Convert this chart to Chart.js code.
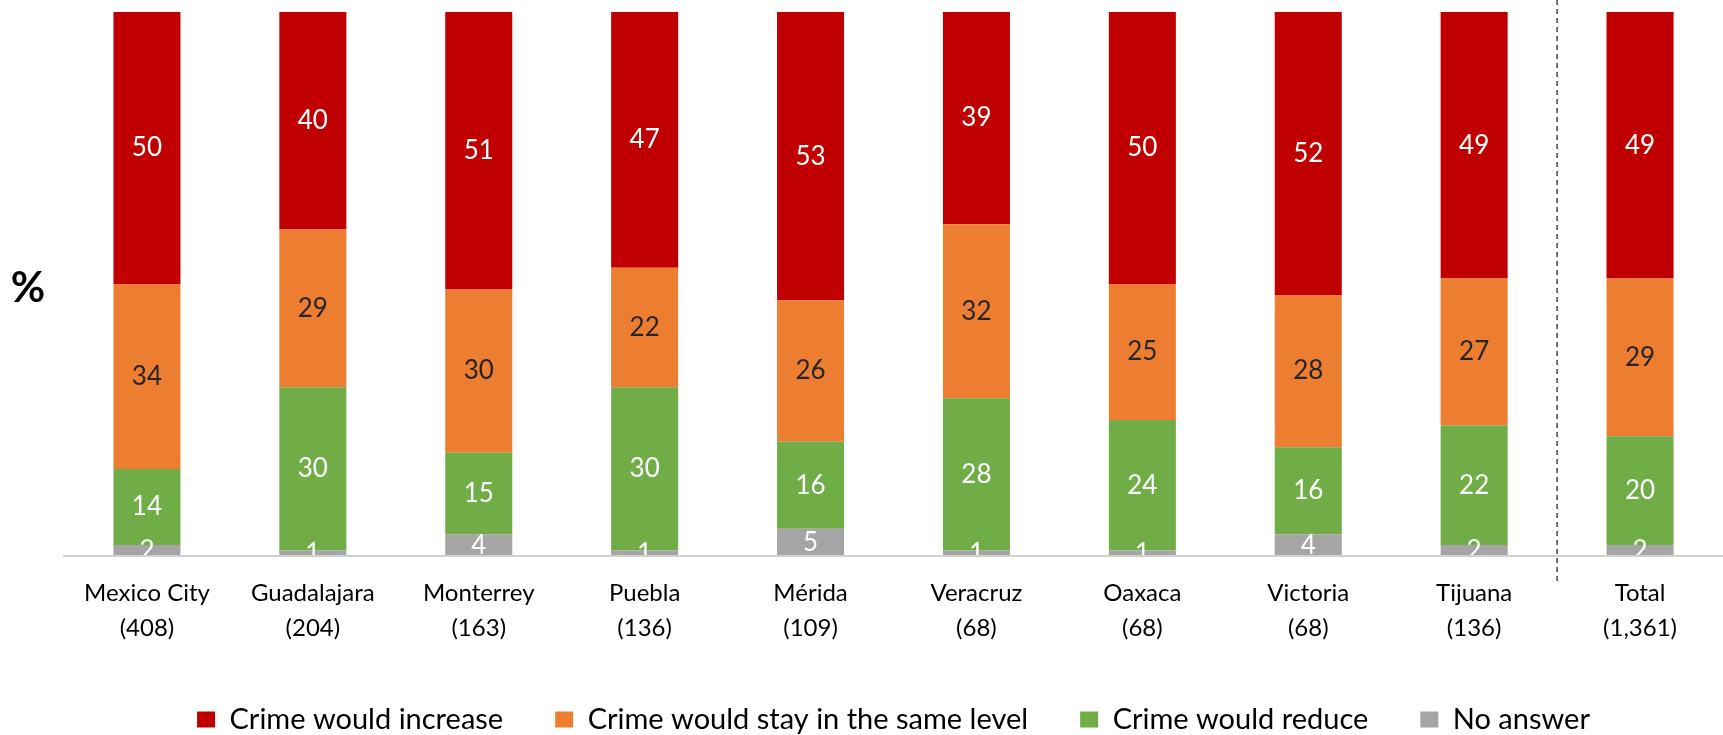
<!DOCTYPE html>
<html>
<head>
<meta charset="utf-8">
<script src="https://cdn.jsdelivr.net/npm/chart.js@4/dist/chart.umd.min.js"></script>
<style>
  html, body { margin: 0; padding: 0; background: #fff; }
  #wrap { width: 1723px; height: 735px; }
</style>
</head>
<body>
<div id="wrap"><canvas id="myCanvas" width="1723" height="735"></canvas></div>
<script>
// categorias y tamano de muestra
const cities = ['Mexico City', 'Guadalajara', 'Monterrey', 'Puebla', 'Mérida', 'Veracruz', 'Oaxaca', 'Victoria', 'Tijuana', 'Total'];
const sampleSizes = ['(408)', '(204)', '(163)', '(136)', '(109)', '(68)', '(68)', '(68)', '(136)', '(1,361)'];

// porcentajes por serie
const crimeIncrease = [50, 40, 51, 47, 53, 39, 50, 52, 49, 49];
const crimeSame = [34, 29, 30, 22, 26, 32, 25, 28, 27, 29];
const crimeReduce = [14, 30, 15, 30, 16, 28, 24, 16, 22, 20];
const noAnswer = [2, 1, 4, 1, 5, 1, 1, 4, 2, 2];

const labels = cities.map((c, i) => [c, sampleSizes[i]]);

Chart.defaults.font.family = 'Lato';

// numeros dentro de cada segmento
const segmentLabels = {
  id: 'segmentLabels',
  afterDatasetsDraw(chart) {
    const ctx = chart.ctx;
    ctx.save();
    ctx.font = '26px Lato';
    ctx.textAlign = 'center';
    ctx.textBaseline = 'middle';
    chart.data.datasets.forEach((ds, i) => {
      const meta = chart.getDatasetMeta(i);
      meta.data.forEach((bar, j) => {
        ctx.fillStyle = ds.labelColor;
        ctx.fillText(ds.data[j], bar.x, (bar.y + bar.base) / 2);
      });
    });
    ctx.restore();
  }
};

// simbolo % y linea punteada antes de Total
const extras = {
  id: 'extras',
  afterDraw(chart) {
    const ctx = chart.ctx;
    const x = chart.scales.x.getPixelForValue(cities.length - 1.5);
    ctx.save();
    ctx.strokeStyle = '#404040';
    ctx.lineWidth = 1.5;
    ctx.setLineDash([5, 4]);
    ctx.beginPath();
    ctx.moveTo(x, 0);
    ctx.lineTo(x, 585);
    ctx.stroke();
    ctx.setLineDash([]);
    ctx.fillStyle = '#000';
    ctx.font = 'bold 42px Lato';
    ctx.textAlign = 'center';
    ctx.textBaseline = 'middle';
    ctx.fillText('%', 28, 288);
    ctx.restore();
  }
};

var canvas = document.getElementById('myCanvas');
const ctx = canvas.getContext('2d');
const myChart = new Chart(ctx, {
  type: 'bar',
  data: {
    labels: labels,
    datasets: [
      { label: 'No answer', data: noAnswer, backgroundColor: '#A5A5A5', labelColor: '#fff' },
      { label: 'Crime would reduce', data: crimeReduce, backgroundColor: '#70AD47', labelColor: '#fff' },
      { label: 'Crime would stay in the same level', data: crimeSame, backgroundColor: '#ED7D31', labelColor: '#262626' },
      { label: 'Crime would increase', data: crimeIncrease, backgroundColor: '#C00000', labelColor: '#fff' }
    ]
  },
  options: {
    responsive: false,
    animation: false,
    devicePixelRatio: 1,
    layout: { padding: { top: 12, left: 64, right: 0, bottom: -9 } },
    datasets: {
      bar: { barPercentage: 0.404, categoryPercentage: 1, borderWidth: 0 }
    },
    scales: {
      x: {
        stacked: true,
        grid: { display: true, color: 'transparent', drawTicks: true, tickLength: 12 },
        border: { display: true, color: '#D0D0D0', width: 2, z: 1 },
        ticks: {
          autoSkip: false,
          maxRotation: 0,
          padding: 7.5,
          color: '#000',
          font: { size: 24, lineHeight: 35 / 24 }
        }
      },
      y: {
        stacked: true,
        display: false,
        min: 0,
        max: 100
      }
    },
    plugins: {
      tooltip: { enabled: false },
      legend: {
        position: 'bottom',
        reverse: true,
        labels: {
          color: '#000',
          boxWidth: 18,
          boxHeight: 16,
          padding: 52,
          font: { size: 29 }
        }
      }
    }
  },
  plugins: [segmentLabels, extras]
});
</script>
</body>
</html>
